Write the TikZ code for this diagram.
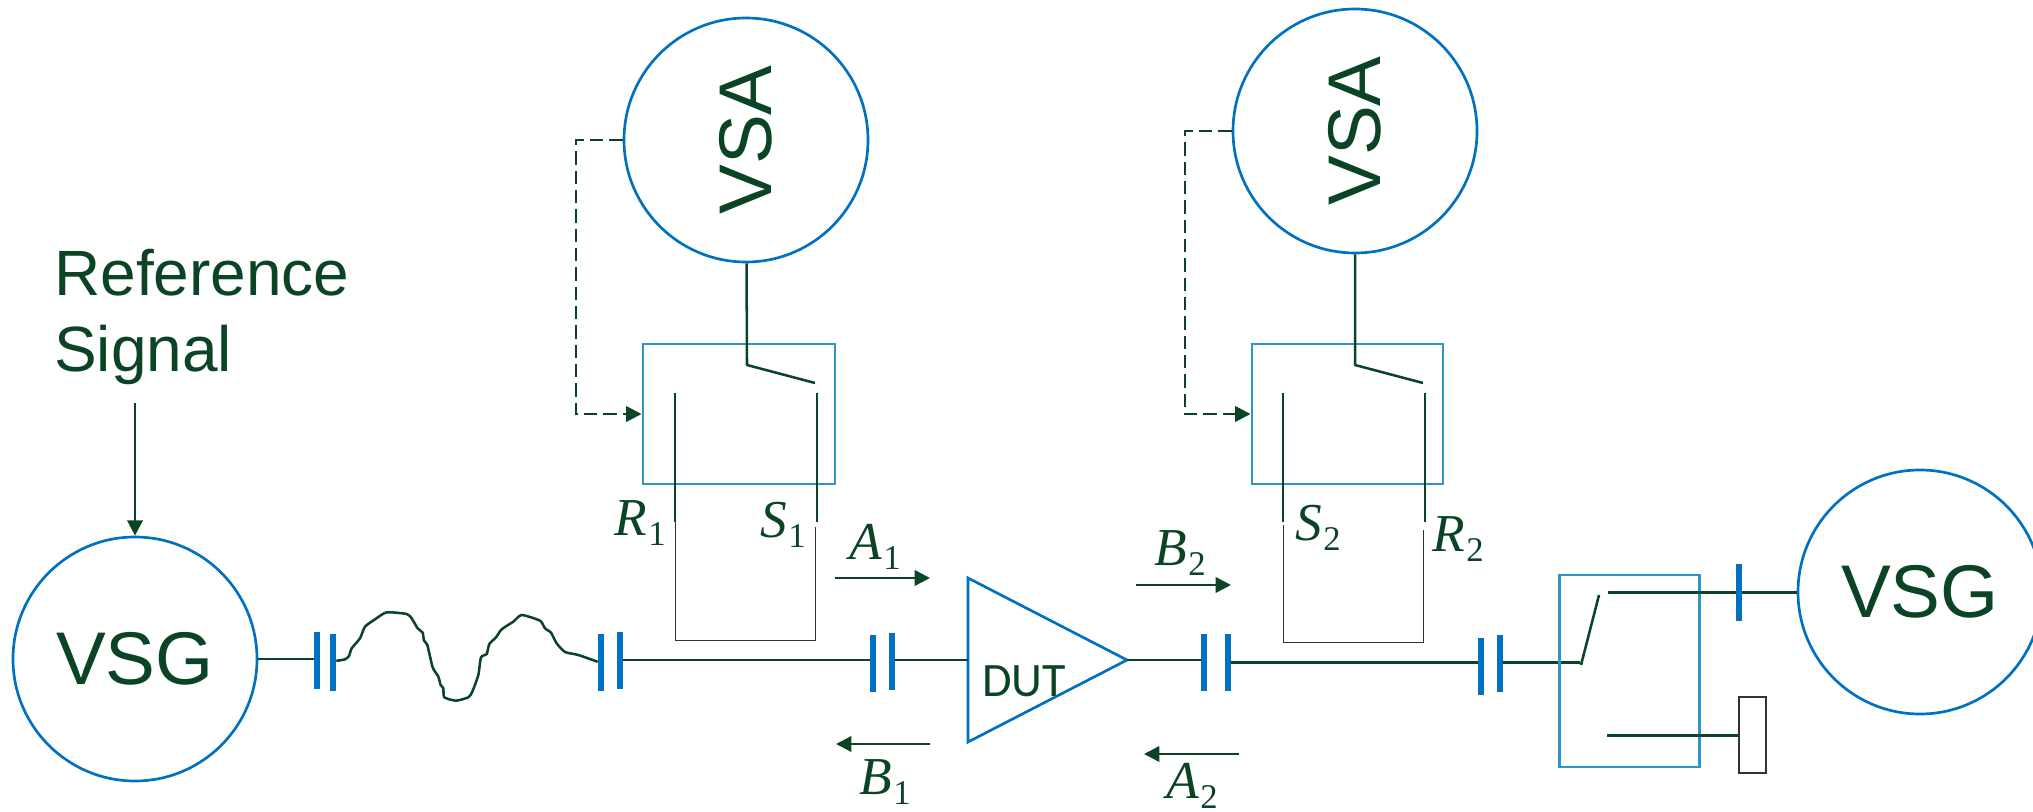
\documentclass[tikz,border=0pt]{standalone}
\usepackage{fontspec,graphicx}
\setmainfont{Liberation Sans}
\newfontfamily\dutfont{Carlito}
\newfontfamily\symfont{Liberation Serif}
\usetikzlibrary{arrows.meta,positioning}
\definecolor{wiregreen}{HTML}{0B4425}
\definecolor{circblue}{HTML}{0070C0}
\definecolor{boxblue}{HTML}{2E95C6}
\definecolor{thingray}{HTML}{333333}
\newcommand{\portlab}[2]{{\fontsize{40}{40}\selectfont\symfont\itshape #1}\kern1pt\raisebox{-7pt}{\fontsize{26}{26}\selectfont\symfont #2}}
\tikzset{
  inst/.style={draw=circblue, line width=2pt, circle, minimum size=183pt, inner sep=0pt,
    text=wiregreen, font=\fontsize{56}{56}\selectfont},
  capbar/.style={fill=circblue, minimum width=4.5pt, minimum height=42.75pt, inner sep=0pt},
  swbox/.style={draw=boxblue, line width=2.2pt},
  wire/.style={draw=wiregreen, line width=1.9pt},
  loopw/.style={draw=thingray, line width=.7pt},
  sig/.style={wire, -{Triangle[length=11.5pt,width=11.5pt]}},
  ctrl/.style={sig, dash pattern=on 10pt off 4.5pt},
  portl/.style={text=wiregreen, inner sep=0pt}
}
\begin{document}
\begin{tikzpicture}[x=.75pt, y=-.75pt]
  \path[use as bounding box, clip] (0,0) rectangle (2033,812);
  % instruments
  \node[inst] (vsgL) at (135,659) {VSG};
  \node[inst] (vsgR) at (1920,592) {VSG};
  \node[inst] (vsaL) at (746,140) {\rotatebox{90}{VSA}};
  \node[inst] (vsaR) at (1355,131) {\rotatebox{90}{VSA}};
  \node[text=wiregreen, align=left, anchor=west, inner sep=0pt, font=\fontsize{48}{57}\selectfont]
    (refsig) at (54,317) {Reference\\Signal};
  \coordinate (refend) at (135,403);
  \draw[sig] (refend) -- (vsgL);
  % capacitors
  \node[capbar] (c1a) at (317,660) {};
  \node[capbar] (c1b) at (333,662.5) {};
  \node[capbar] (c2a) at (601,662.5) {};
  \node[capbar] (c2b) at (620,660) {};
  \node[capbar] (c3a) at (873,663.5) {};
  \node[capbar] (c3b) at (892,661.5) {};
  \node[capbar] (c4a) at (1204,662.5) {};
  \node[capbar] (c4b) at (1228,662.5) {};
  \node[capbar] (c5a) at (1481,666.5) {};
  \node[capbar] (c5b) at (1500,663.5) {};
  \node[capbar] (c6) at (1739,592.5) {};
  % DUT
  \coordinate (dutT) at (968,578);
  \coordinate (dutB) at (968,742);
  \coordinate (dutE) at (1127,660);
  \draw[draw=circblue, line width=2pt, line join=miter] (dutT) -- (dutE) -- (dutB) -- cycle;
  \node[text=wiregreen, inner sep=0pt, font=\dutfont\fontsize{36}{36}\selectfont] (dut) at (1024,681) {DUT};
  % main line
  \draw[wire] (vsgL) -- (c1a.west |- vsgL);
  \begin{scope}[shift={(250,580)}, scale=1/3]
    \draw[wire] plot[smooth, tension=.35] coordinates {([yshift=3.75pt]c1b.east) (285,238) (297,228) (305,205) (330,175) (345,140)
      (375,118) (410,97) (470,102) (485,115) (503,145) (518,158) (522,182) (532,195) (548,262) (565,290)
      (572,315) (580,325) (583,352) (618,362) (655,352) (667,335) (685,285) (693,232) (710,222) (718,192)
      (738,172) (755,148) (790,125) (815,105) (870,122) (885,145) (903,158) (920,190) (945,216) (985,225)
      ([yshift=1.5pt]c2a.west)};
  \end{scope}
  \draw[wire] (c2b.east) -- (c3a.west |- c2b.east);
  \draw[wire] (c3b.east |- c2b.east) -- (dutT |- c2b.east);
  \draw[wire] (dutE) -- (c4a.west |- dutE);
  \draw[wire] (c4b.east) -- (c5a.west |- c4b.east);
  \draw[wire] (c5b.east |- c4b.east) -- ++(77,0) coordinate (sw3in);
  % coupler 1
  \node[swbox, minimum width=144pt, minimum height=105pt, inner sep=0pt] (box1) at (739,414) {};
  \coordinate (r1t) at (675,393);
  \coordinate (r1b) at (675,522);
  \coordinate (s1t) at (817,393);
  \coordinate (s1b) at (817,522);
  \coordinate (arm1) at (747,365);
  \coordinate (arm1e) at (815,383);
  \draw[wire] (r1t) -- (r1b);
  \draw[wire] (s1t) -- (s1b);
  \draw[wire, line join=round] (vsaL) -- (arm1) -- (arm1e);
  \coordinate (l1e) at (815,527);
  \draw[loopw] (r1b) -- (675,640) -- (815,640) -- (l1e);
  \coordinate (ctl1) at (576,140);
  \draw[ctrl] (vsaL) -- (ctl1) |- (box1);
  % coupler 2
  \node[swbox, minimum width=143.25pt, minimum height=105pt, inner sep=0pt] (box2) at (1347.5,414) {};
  \coordinate (s2t) at (1283,393);
  \coordinate (s2b) at (1283,522);
  \coordinate (r2t) at (1425,393);
  \coordinate (r2b) at (1425,522);
  \coordinate (arm2) at (1355,365);
  \coordinate (arm2e) at (1423,383);
  \draw[wire] (s2t) -- (s2b);
  \draw[wire] (r2t) -- (r2b);
  \draw[wire, line join=round] (vsaR) -- (arm2) -- (arm2e);
  \coordinate (l2s) at (1283,525);
  \coordinate (l2e) at (1423,530);
  \draw[loopw] (l2s) -- (1283,642) -- (1423,642) -- (l2e);
  \coordinate (ctl2) at (1185,131);
  \draw[ctrl] (vsaR) -- (ctl2) |- (box2);
  % output switch
  \node[swbox, minimum width=105pt, minimum height=144pt, inner sep=0pt] (box3) at (1629.5,671) {};
  \coordinate (armb) at (1581,665);
  \coordinate (armt) at (1599,595);
  \draw[wire] (armb) -- (armt);
  \coordinate (swt) at (1608,592.5);
  \coordinate (swb) at (1607,735.5);
  \node[draw=thingray, line width=1.6pt, minimum width=20pt, minimum height=57pt, inner sep=0pt] (load) at (1752.5,735) {};
  \draw[wire] (swt) -- (c6.west |- swt);
  \draw[wire] (c6.east) -- (vsgR.west |- c6.east);
  \draw[wire] (swb) -- (load.west |- swb);
  % wave labels
  \coordinate (a1s) at (835,578); \coordinate (a1e) at (930,578);
  \coordinate (b1s) at (930,744); \coordinate (b1e) at (836,744);
  \coordinate (b2s) at (1136,585); \coordinate (b2e) at (1231,585);
  \coordinate (a2s) at (1239,754); \coordinate (a2e) at (1144,754);
  \draw[sig] (a1s) -- (a1e);
  \draw[sig] (b1s) -- (b1e);
  \draw[sig] (b2s) -- (b2e);
  \draw[sig] (a2s) -- (a2e);
  \node[portl] (a1l) at (875,547) {\portlab{A}{1}};
  \node[portl] (b1l) at (885,782) {\portlab{B}{1}};
  \node[portl] (b2l) at (1180,553) {\portlab{B}{2}};
  \node[portl] (a2l) at (1192,786) {\portlab{A}{2}};
  \node[portl] (r1l) at (640,523) {\portlab{R}{1}};
  \node[portl] (s1l) at (783,525) {\portlab{S}{1}};
  \node[portl] (s2l) at (1318,528) {\portlab{S}{2}};
  \node[portl] (r2l) at (1458,539) {\portlab{R}{2}};
\end{tikzpicture}
\end{document}
